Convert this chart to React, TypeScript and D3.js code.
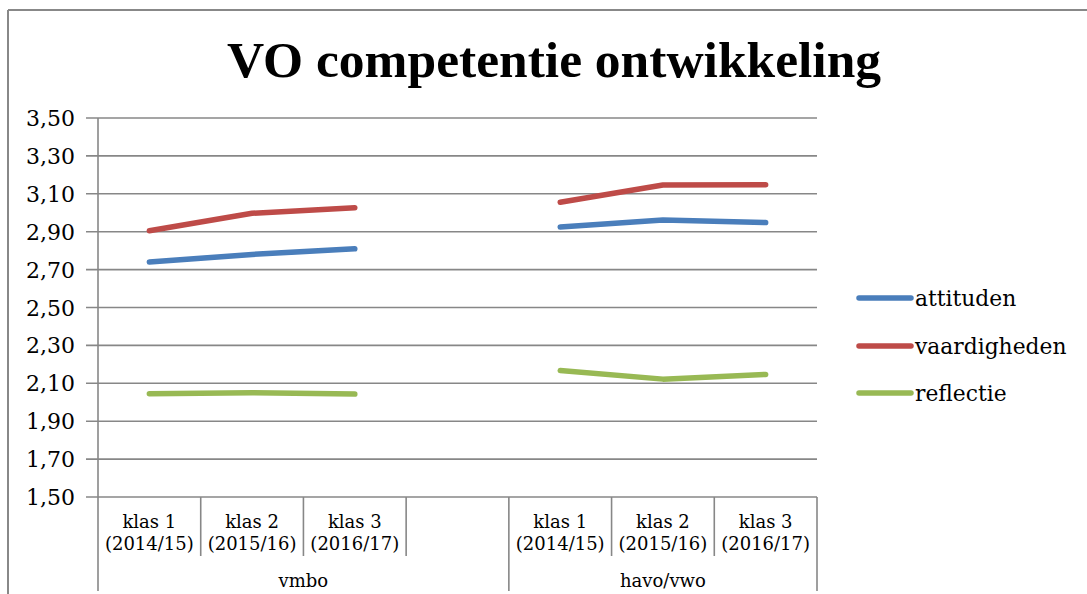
import { useEffect, useRef } from "react";
import * as d3 from "d3";

// Data
const categories = [
  "klas 1|(2014/15)",
  "klas 2|(2015/16)",
  "klas 3|(2016/17)",
  "",
  "klas 1|(2014/15)",
  "klas 2|(2015/16)",
  "klas 3|(2016/17)",
];
const groups = ["vmbo", "havo/vwo"];
const groupSpans = [
  [0, 3],
  [4, 6],
];
const yTicks = [1.5, 1.7, 1.9, 2.1, 2.3, 2.5, 2.7, 2.9, 3.1, 3.3, 3.5];

const attituden = [2.74, 2.78, 2.81, null, 2.925, 2.962, 2.948];
const vaardigheden = [2.905, 2.997, 3.027, null, 3.055, 3.146, 3.148];
const reflectie = [2.045, 2.05, 2.043, null, 2.167, 2.122, 2.147];

const seriesNames = ["attituden", "vaardigheden", "reflectie"];
const seriesColors = ["#4a7ebb", "#be4b48", "#98b954"];

const TITLE_FONT = "Liberation Serif, serif";
const FONT = "DejaVu Serif, serif";

export default function App() {
  const ref = useRef<SVGSVGElement>(null);

  useEffect(() => {
    if (!ref.current) return;
    const svg = d3.select(ref.current);
    svg.selectAll("*").remove();

    const W = 1087;
    const H = 594;
    const left = 98;
    const right = 817;
    const top = 118;
    const bottom = 497;
    const grid = "#878787";

    // outer chart border (top + left visible)
    svg.append("line").attr("x1", 8).attr("y1", 10).attr("x2", W).attr("y2", 10)
      .attr("stroke", "#888").attr("stroke-width", 2);
    svg.append("line").attr("x1", 8).attr("y1", 10).attr("x2", 8).attr("y2", H)
      .attr("stroke", "#888").attr("stroke-width", 2);

    // title
    svg.append("text")
      .attr("x", 554).attr("y", 77)
      .attr("text-anchor", "middle")
      .attr("font-family", TITLE_FONT)
      .attr("font-weight", "bold")
      .attr("font-size", 51.5)
      .text("VO competentie ontwikkeling");

    const x = d3.scaleBand<number>()
      .domain(d3.range(categories.length))
      .range([left, right])
      .padding(0);

    const y = d3.scaleLinear().domain([1.5, 3.5]).range([bottom, top]);
    const fmt = (v: number) => d3.format(".2f")(v).replace(".", ",");

    // gridlines + y labels
    const yg = svg.append("g");
    yTicks.forEach((t) => {
      yg.append("line")
        .attr("x1", left - 12).attr("x2", right)
        .attr("y1", y(t)).attr("y2", y(t))
        .attr("stroke", grid).attr("stroke-width", 1.6);
      yg.append("text")
        .attr("x", 75).attr("y", y(t) + 8)
        .attr("text-anchor", "end")
        .attr("font-family", FONT)
        .attr("font-size", 22)
        .attr("fill", "#000")
        .text(fmt(t));
    });

    // y axis line
    svg.append("line")
      .attr("x1", left).attr("x2", left)
      .attr("y1", top).attr("y2", 591)
      .attr("stroke", grid).attr("stroke-width", 1.6);

    // category dividers
    const groupEdges = new Set<number>();
    groupSpans.forEach(([a, b]) => {
      groupEdges.add(x(a)!);
      groupEdges.add(x(b)! + x.bandwidth());
    });
    categories.forEach((c, i) => {
      const xe = x(i)! + x.bandwidth();
      const full = groupEdges.has(xe);
      svg.append("line")
        .attr("x1", xe).attr("x2", xe)
        .attr("y1", bottom).attr("y2", full ? 591 : 556)
        .attr("stroke", grid).attr("stroke-width", 1.6);
      if (!c) return;
      const [l1, l2] = c.split("|");
      const cx = x(i)! + x.bandwidth() / 2;
      svg.append("text")
        .attr("x", cx).attr("y", 528)
        .attr("text-anchor", "middle")
        .attr("font-family", FONT).attr("font-size", 18)
        .text(l1);
      svg.append("text")
        .attr("x", cx).attr("y", 550)
        .attr("text-anchor", "middle")
        .attr("font-family", FONT).attr("font-size", 18)
        .text(l2);
    });

    groups.forEach((g, gi) => {
      const [a, b] = groupSpans[gi];
      const cx = (x(a)! + x(b)! + x.bandwidth()) / 2;
      svg.append("text")
        .attr("x", cx).attr("y", 587)
        .attr("text-anchor", "middle")
        .attr("font-family", FONT).attr("font-size", 18)
        .text(g);
    });

    // lines
    const series = [attituden, vaardigheden, reflectie];
    const line = d3.line<number | null>()
      .defined((d) => d !== null)
      .x((_, i) => x(i)! + x.bandwidth() / 2)
      .y((d) => y(d as number));

    series.forEach((s, si) => {
      svg.append("path")
        .datum(s)
        .attr("d", line)
        .attr("fill", "none")
        .attr("stroke", seriesColors[si])
        .attr("stroke-width", 5.5)
        .attr("stroke-linecap", "round")
        .attr("stroke-linejoin", "round");
    });

    // legend
    const legendY = [298, 346, 393];
    seriesNames.forEach((n, i) => {
      svg.append("line")
        .attr("x1", 859).attr("x2", 911)
        .attr("y1", legendY[i]).attr("y2", legendY[i])
        .attr("stroke", seriesColors[i])
        .attr("stroke-width", 5.5)
        .attr("stroke-linecap", "round");
      svg.append("text")
        .attr("x", 915).attr("y", legendY[i] + 8)
        .attr("font-family", FONT).attr("font-size", 21.8)
        .text(n);
    });
  }, []);

  return (
    <svg
      ref={ref}
      width={1087}
      height={594}
      style={{ position: "absolute", left: 0, top: 0, background: "#fff" }}
    />
  );
}
